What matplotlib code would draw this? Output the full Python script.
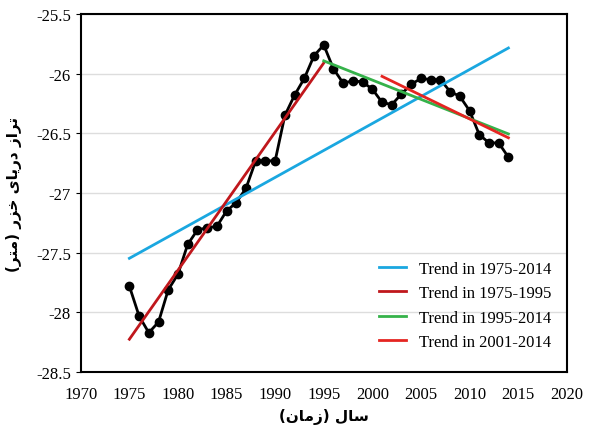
import matplotlib.pyplot as plt
import numpy as np

years = np.arange(1975, 2015)
level = [-27.78, -28.03, -28.17, -28.08, -27.81, -27.68, -27.43, -27.31, -27.29, -27.28,
         -27.15, -27.08, -26.96, -26.73, -26.73, -26.73, -26.35, -26.18, -26.04, -25.85,
         -25.76, -25.96, -26.08, -26.06, -26.07, -26.13, -26.24, -26.26, -26.17, -26.09,
         -26.04, -26.05, -26.05, -26.15, -26.19, -26.31, -26.51, -26.58, -26.58, -26.70]
periods = [(1975, 2014), (1975, 1995), (1995, 2014), (2001, 2014)]
colors = ['#1aa7e0', '#c0171c', '#35b24a', '#e52521']
xlabel = 'سال (زمان)'
ylabel = 'تراز دریای خزر (متر)'

# minimal Persian shaping: isolated, final, initial, medial forms
FORMS = {
    'س': (0xFEB1, 0xFEB2, 0xFEB3, 0xFEB4),
    'ل': (0xFEDD, 0xFEDE, 0xFEDF, 0xFEE0),
    'م': (0xFEE1, 0xFEE2, 0xFEE3, 0xFEE4),
    'ن': (0xFEE5, 0xFEE6, 0xFEE7, 0xFEE8),
    'ت': (0xFE95, 0xFE96, 0xFE97, 0xFE98),
    'خ': (0xFEA5, 0xFEA6, 0xFEA7, 0xFEA8),
    'ی': (0xFBFC, 0xFBFD, 0xFBFE, 0xFBFF),
    'ا': (0xFE8D, 0xFE8E, None, None),
    'د': (0xFEA9, 0xFEAA, None, None),
    'ر': (0xFEAD, 0xFEAE, None, None),
    'ز': (0xFEAF, 0xFEB0, None, None),
}

def shape(s):
    s = s.replace('لا', '\uFEFB')
    out = []
    for i, ch in enumerate(s):
        if ch == '\uFEFB':
            p = s[i - 1] if i > 0 else ''
            out.append('\uFEFC' if p in FORMS and FORMS[p][2] else ch)
            continue
        if ch not in FORMS:
            out.append(ch)
            continue
        f = FORMS[ch]
        p = s[i - 1] if i > 0 else ''
        n = s[i + 1] if i + 1 < len(s) else ''
        jp = p in FORMS and FORMS[p][2] is not None
        jn = f[2] is not None and (n in FORMS or n == '\uFEFB')
        idx = {(False, False): 0, (True, False): 1, (False, True): 2, (True, True): 3}[(jp, jn)]
        out.append(chr(f[idx]))
    return ''.join(out)[::-1].translate(str.maketrans('()', ')('))

plt.rcParams['font.family'] = ['Liberation Serif', 'DejaVu Sans']
fig = plt.figure(figsize=(6.12, 4.39), dpi=100)
ax = fig.add_axes([0.132, 0.150, 0.794, 0.816])

lv = np.array(level)
ax.plot(years, lv, color='black', lw=2, marker='o', ms=6, zorder=3)
for (a, b), c in zip(periods, colors):
    m = (years >= a) & (years <= b)
    k, q = np.polyfit(years[m], lv[m], 1)
    xs = np.array([a, b])
    ax.plot(xs, k * xs + q, color=c, lw=2, label=f'Trend in {a}-{b}', zorder=4)

ax.set_xlim(1970, 2020)
ax.set_ylim(-28.5, -25.5)
ax.set_xticks(range(1970, 2021, 5))
ax.set_yticks(np.arange(-28.5, -25.4, 0.5))
ax.set_yticklabels(['-28.5', '-28', '-27.5', '-27', '-26.5', '-26', '-25.5'])
ax.yaxis.grid(True, color='#dddddd', lw=1)
ax.set_axisbelow(True)
ax.tick_params(labelsize=12)
ax.tick_params(axis='x', length=0, pad=10)
for s in ax.spines.values():
    s.set_linewidth(1.5)
ax.set_xlabel(shape(xlabel), family=['DejaVu Sans'], fontsize=11, fontweight='bold')
ax.set_ylabel(shape(ylabel), family=['DejaVu Sans'], fontsize=11, fontweight='bold', labelpad=10)
ax.legend(loc='lower right', frameon=False, fontsize=12, handlelength=1.6,
          bbox_to_anchor=(1.0, 0.02))
fig.savefig('out.png', dpi=100)
